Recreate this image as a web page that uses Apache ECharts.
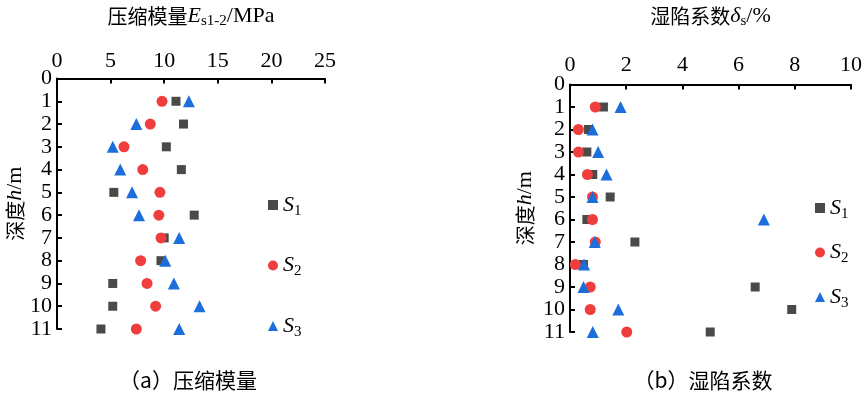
<!DOCTYPE html>
<html><head><meta charset="utf-8">
<script src="https://cdn.jsdelivr.net/npm/echarts@6/dist/echarts.min.js"></script>
<style>html,body{margin:0;padding:0;background:#fff}#c{width:865px;height:396px}</style>
</head><body><div id="c"></div>
<script>
const depths = [1,2,3,4,5,6,7,8,9,10,11];
// (a) compression modulus Es1-2 / MPa
const esS1 = [11.1,11.8,10.2,11.6,5.3,12.8,10.0,9.7,5.2,5.2,4.1];
const esS2 = [9.8,8.7,6.25,8.0,9.6,9.5,9.7,7.8,8.4,9.2,7.4];
const esS3 = [12.3,7.4,5.2,5.9,7.0,7.65,11.4,10.1,10.9,13.3,11.4];
// (b) collapsibility coefficient δs / %
const dsS1 = [1.19,0.66,0.6,0.81,1.43,0.6,2.31,0.48,6.59,7.89,4.99];
const dsS2 = [0.9,0.3,0.3,0.62,0.8,0.8,0.9,0.19,0.72,0.72,2.02];
const dsS3 = [1.8,0.8,1.0,1.3,0.8,6.9,0.88,0.5,0.48,1.72,0.81];
const seriesNames = ['S1','S2','S3'];

const serif = 'Liberation Serif';
const cjk = 'Noto Sans CJK SC';
const colors = ['#4a4a4a','#f03e3e','#1c6fdb'];
const symbols = ['rect','circle','triangle'];
const sizes = [9,11,12];

function pairs(vals){ return vals.map((v,i)=>[v, depths[i]]); }

const axisLine = {show:true, lineStyle:{color:'#000', width:2}};
const axisTick = {show:true, inside:true, length:5, lineStyle:{color:'#000', width:2}};
function lbl(margin){
  return {margin, color:'#000', fontFamily:serif, fontSize:22,
    formatter: v => '{n|' + v + '}',
    rich:{n:{fontFamily:serif, fontSize:22, color:'#000'}}};
}
const rich = {
  cn:{fontFamily:cjk, fontSize:20, color:'#000'},
  i:{fontFamily:serif, fontStyle:'italic', fontSize:22, color:'#000'},
  t:{fontFamily:serif, fontSize:22, color:'#000'},
  sub:{fontFamily:serif, fontSize:15, color:'#000', verticalAlign:'bottom', padding:[10,0,0,0]}
};

const data = [[esS1,esS2,esS3],[dsS1,dsS2,dsS3]];
const series = [];
for (let g=0; g<2; g++){
  for (let s=0; s<3; s++){
    series.push({
      name: seriesNames[s], type:'scatter', xAxisIndex:g, yAxisIndex:g,
      symbol: symbols[s], symbolSize: sizes[s],
      itemStyle:{color:colors[s], opacity:1},
      data: pairs(data[g][s])
    });
  }
}

function legend(left, top, gap){
  return {
    orient:'vertical', left:left, top:top, itemGap:gap, itemWidth:10, itemHeight:10,
    data: seriesNames.map((n,i)=>({name:n, icon: symbols[i], itemStyle:{color:colors[i]}})),
    formatter: n => '{i|S}{sub|' + n.slice(1) + '}',
    textStyle:{rich:{
      i:{fontFamily:serif, fontStyle:'italic', fontSize:22, color:'#000'},
      sub:{fontFamily:serif, fontSize:15, color:'#000', verticalAlign:'bottom', padding:[12,0,0,0]}
    }},
    selectedMode:false
  };
}

const chart = echarts.init(document.getElementById('c'));
chart.setOption({
  animation:false,
  textStyle:{fontFamily:serif},
  grid:[
    {left:57, top:70, width:268, height:259},
    {left:570, top:75, width:282, height:257}
  ],
  xAxis:[
    {type:'value', gridIndex:0, position:'top', min:0, max:25, interval:5,
     axisLine, axisTick, splitLine:{show:false}, axisLabel:lbl(6),
     name:'{cn|压缩模量}{i|E}{sub|s1-2}{t|/MPa}', nameLocation:'middle', nameGap:50,
     nameTextStyle:{rich}},
    {type:'value', gridIndex:1, position:'top', min:0, max:10, interval:2,
     axisLine, axisTick, splitLine:{show:false}, axisLabel:lbl(8),
     name:'{cn|湿陷系数}{i|δ}{sub|s}{t|/%}', nameLocation:'middle', nameGap:56,
     nameTextStyle:{rich}}
  ],
  yAxis:[
    {type:'value', gridIndex:0, inverse:true, min:0, max:11, interval:1,
     axisLine, axisTick, splitLine:{show:false}, axisLabel:lbl(5),
     name:'{cn|深度}{i|h}{t|/m}', nameLocation:'middle', nameGap:30, nameTextStyle:{rich}},
    {type:'value', gridIndex:1, inverse:true, min:0, max:11, interval:1,
     axisLine, axisTick, splitLine:{show:false}, axisLabel:lbl(5),
     name:'{cn|深度}{i|h}{t|/m}', nameLocation:'middle', nameGap:34, nameTextStyle:{rich}}
  ],
  legend:[legend(263, 189, 36), legend(810, 192, 20)],
  graphic:[
    {type:'text', style:{text:'（a）压缩模量', x:188, y:380, textAlign:'center', textVerticalAlign:'middle', font:'21px "Noto Sans CJK SC"', fill:'#000'}},
    {type:'text', style:{text:'（b）湿陷系数', x:703, y:380, textAlign:'center', textVerticalAlign:'middle', font:'21px "Noto Sans CJK SC"', fill:'#000'}}
  ],
  series
});
</script></body></html>
